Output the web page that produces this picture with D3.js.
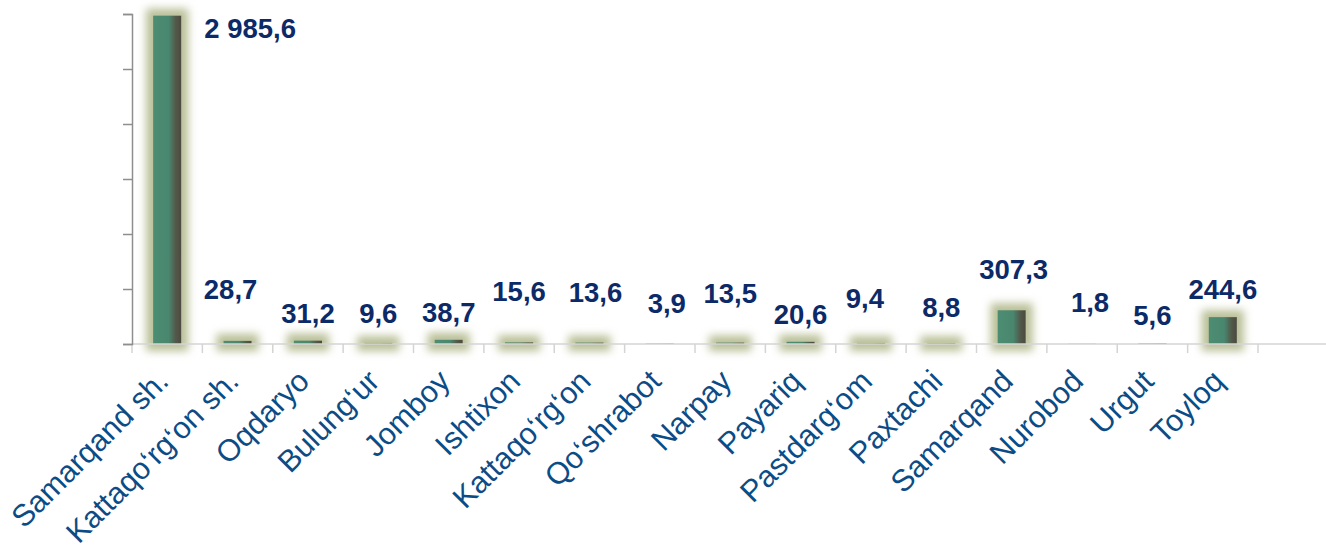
<!DOCTYPE html>
<html>
<head>
<meta charset="utf-8">
<script src="https://cdn.jsdelivr.net/npm/d3@7/dist/d3.min.js"></script>
<style>
  html, body { margin: 0; padding: 0; background: #ffffff; }
  svg { display: block; }
</style>
</head>
<body>
<svg id="chart" width="1326" height="552"></svg>
<script>
// ---- data ----
const categories = ["Samarqand sh.", "Kattaqo\u2018rg\u2018on sh.", "Oqdaryo", "Bulung\u2018ur", "Jomboy", "Ishtixon",
  "Kattaqo\u2018rg\u2018on", "Qo\u2018shrabot", "Narpay", "Payariq", "Pastdarg\u2018om", "Paxtachi",
  "Samarqand", "Nurobod", "Urgut", "Toyloq"];
const values = [2985.6, 28.7, 31.2, 9.6, 38.7, 15.6, 13.6, 3.9, 13.5, 20.6, 9.4, 8.8, 307.3, 1.8, 5.6, 244.6];
const valueLabels = ["2 985,6", "28,7", "31,2", "9,6", "38,7", "15,6", "13,6", "3,9", "13,5", "20,6", "9,4", "8,8", "307,3", "1,8", "5,6", "244,6"];
const yTicks = [0, 500, 1000, 1500, 2000, 2500, 3000];

// ---- layout (label nudges, as placed in the original) ----
const labelNudgeX = [83, -7, 0, 0, 0, 0, 6, 7, 0, 0, -6, 0, 2, 8, 0, 0];
const labelNudgeY = [40, -24, 0, -2, 0, -23, -23, -13, -22, 0, -17, -8, -13, -14, 0, 0];

const W = 1326, H = 552;
const svg = d3.select("#chart");
const defs = svg.append("defs");

const grad = defs.append("linearGradient").attr("id", "barGrad")
  .attr("x1", "0").attr("x2", "1").attr("y1", "0").attr("y2", "0");
[[0, "#4c8d73"], [0.55, "#4a876f"], [0.8, "#52594a"], [1, "#4e4a40"]].forEach(([o, c]) =>
  grad.append("stop").attr("offset", o).attr("stop-color", c));

const glow = defs.append("filter").attr("id", "glow")
  .attr("filterUnits", "userSpaceOnUse")
  .attr("x", 0).attr("y", 0).attr("width", W).attr("height", H);
glow.append("feMorphology").attr("in", "SourceAlpha").attr("operator", "dilate").attr("radius", 7).attr("result", "dil");
glow.append("feFlood").attr("flood-color", "#b9c097").attr("result", "fl");
glow.append("feComposite").attr("in", "fl").attr("in2", "dil").attr("operator", "in").attr("result", "col");
glow.append("feGaussianBlur").attr("in", "col").attr("stdDeviation", 4).attr("result", "bl");
const merge = glow.append("feMerge");
merge.append("feMergeNode").attr("in", "bl");
merge.append("feMergeNode").attr("in", "SourceGraphic");

const x = d3.scaleBand().domain(categories).range([132, 1258]).paddingInner(0.6).paddingOuter(0.3);
const xOuter = d3.scaleBand().domain(categories).range([132, 1258]).padding(0);
const y = d3.scaleLinear().domain([0, 3000]).range([344, 14]);

// bars
svg.append("g").selectAll("rect").data(values).join("rect")
  .attr("x", (d, i) => x(categories[i]))
  .attr("width", x.bandwidth())
  .attr("y", d => y(d))
  .attr("height", d => y(0) - y(d))
  .attr("fill", "url(#barGrad)")
  .attr("filter", d => (y(0) - y(d)) >= 0.8 ? "url(#glow)" : null);

// x axis line and ticks
svg.append("line").attr("x1", 132).attr("x2", W).attr("y1", y(0)).attr("y2", y(0))
  .attr("stroke", "#d4d4d4").attr("stroke-width", 1.5);
const boundaries = categories.map(c => xOuter(c)).concat([xOuter.range()[1]]);
svg.append("g").selectAll("line").data(boundaries).join("line")
  .attr("x1", d => d).attr("x2", d => d)
  .attr("y1", y(0)).attr("y2", y(0) + 9)
  .attr("stroke", "#d4d4d4").attr("stroke-width", 1.5);

// y axis
const yAxis = d3.axisLeft(y).tickValues(yTicks).tickSize(9).tickFormat("");
const gy = svg.append("g").attr("transform", "translate(132,0)").call(yAxis);
gy.select(".domain").attr("stroke", "#8e8e8e").attr("stroke-width", 1.5);
gy.selectAll(".tick line").attr("stroke", "#8e8e8e").attr("stroke-width", 1.5);

// value labels
svg.append("g").selectAll("text").data(values).join("text")
  .attr("x", (d, i) => xOuter(categories[i]) + xOuter.bandwidth() / 2 + labelNudgeX[i])
  .attr("y", (d, i) => y(d) - 18 + labelNudgeY[i])
  .attr("text-anchor", "middle")
  .attr("font-family", "Liberation Sans, Arial, sans-serif")
  .attr("font-weight", "bold")
  .attr("font-size", 27.5)
  .attr("fill", "#0d2a68")
  .text((d, i) => valueLabels[i]);

// category labels
svg.append("g").selectAll("text").data(categories).join("text")
  .attr("transform", d => `translate(${xOuter(d) + xOuter.bandwidth() / 2 + 3},383) rotate(-45)`)
  .attr("text-anchor", "end")
  .attr("font-family", "Liberation Sans, Arial, sans-serif")
  .attr("font-size", 30.5)
  .attr("fill", "#0b4c86")
  .text(d => d);
</script>
</body>
</html>
